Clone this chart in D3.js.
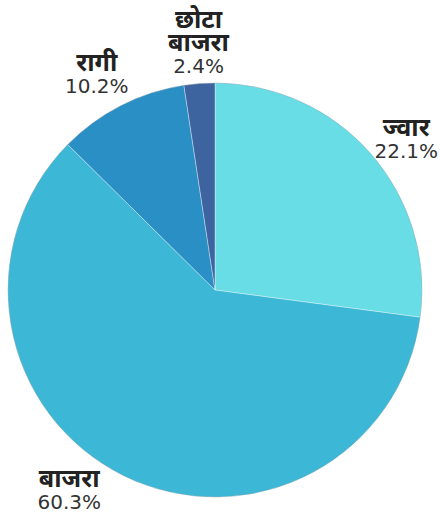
<!DOCTYPE html>
<html>
<head>
<meta charset="utf-8">
<script src="https://cdn.jsdelivr.net/npm/d3@7"></script>
<style>
  html, body { margin: 0; padding: 0; background: #ffffff; }
  svg { display: block; }
</style>
</head>
<body>
<svg id="chart" width="440" height="512"></svg>
<script>
// ---- data ----
const categories = [["ज्वार"], ["बाजरा"], ["रागी"], ["छोटा", "बाजरा"]];
const percentLabels = ["22.1%", "60.3%", "10.2%", "2.4%"];
// slice shares as drawn in the picture (the ज्वार slice fills the remainder)
const sliceShares = [27.1, 60.3, 10.2, 2.4];
const colors = ["#68dde6", "#3cb8d6", "#2a8fc4", "#3e64a0"];

// ---- layout ----
const W = 440, H = 512;
const cx = 215, cy = 290, R = 207;
const labelR = 245;
const labelNudge = [[7, 29], [-38, -1], [-7, 21], [2, 27]];
const lineGap = 23;

const svg = d3.select("#chart");
const g = svg.append("g").attr("transform", `translate(${cx},${cy})`);

const pie = d3.pie().sort(null).value(d => d);
const arcs = pie(sliceShares);
const arc = d3.arc().innerRadius(0).outerRadius(R);
const labelArc = d3.arc().innerRadius(labelR).outerRadius(labelR);

g.selectAll("path.slice")
  .data(arcs)
  .enter().append("path")
  .attr("class", "slice")
  .attr("d", arc)
  .attr("fill", (d, i) => colors[i])
  .attr("stroke", "rgba(255,255,255,0.35)")
  .attr("stroke-width", 1);

g.append("circle")
  .attr("r", R)
  .attr("fill", "none")
  .attr("stroke", "rgba(20,60,90,0.2)")
  .attr("stroke-width", 1);

const labels = g.selectAll("g.label")
  .data(arcs)
  .enter().append("g")
  .attr("class", "label")
  .attr("transform", (d, i) => {
    const c = labelArc.centroid(d);
    return `translate(${c[0] + labelNudge[i][0]},${c[1] + labelNudge[i][1]})`;
  });

labels.each(function(d, i) {
  const sel = d3.select(this);
  const names = categories[i];
  names.forEach((nm, k) => {
    sel.append("text")
      .attr("x", 0)
      .attr("y", -(names.length - k) * lineGap + 1)
      .attr("text-anchor", "middle")
      .attr("font-family", "'Noto Sans', 'Noto Sans Devanagari', sans-serif")
      .attr("font-weight", "bold")
      .attr("font-size", 25)
      .attr("fill", "#222")
      .text(nm);
  });
  sel.append("text")
    .attr("x", 0)
    .attr("y", 0)
    .attr("text-anchor", "middle")
    .attr("font-family", "'DejaVu Sans', sans-serif")
    .attr("font-size", 20)
    .attr("fill", "#333")
    .text(percentLabels[i]);
});
</script>
</body>
</html>
